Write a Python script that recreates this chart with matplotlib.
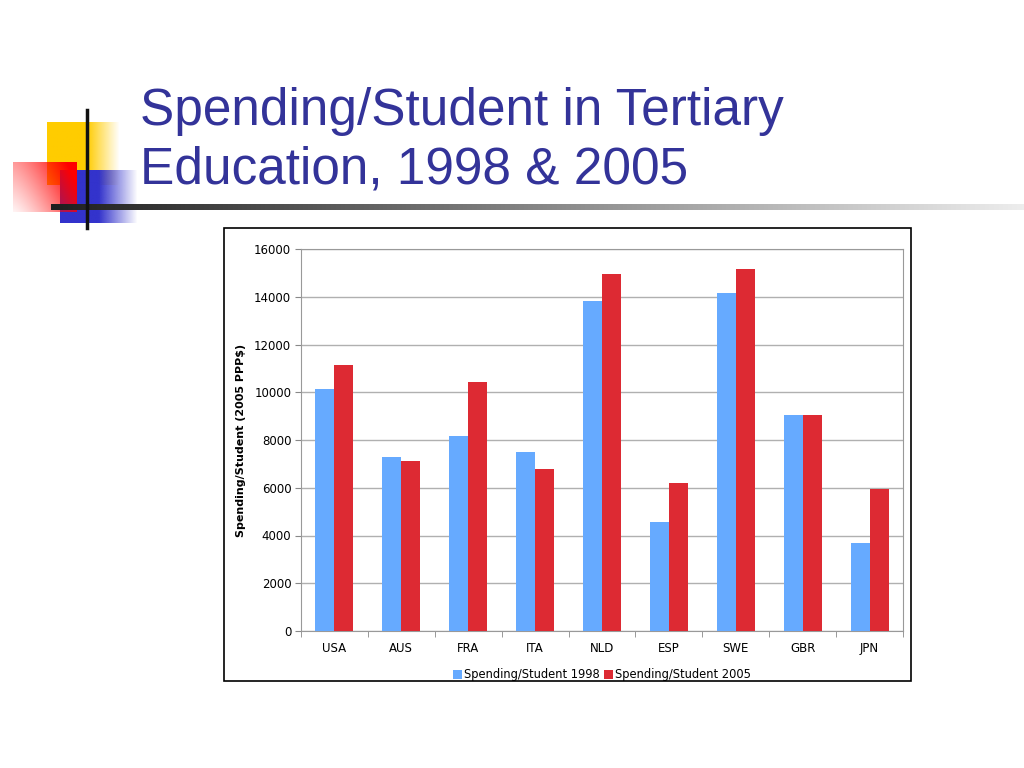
import numpy as np
import matplotlib
matplotlib.use('Agg')
import matplotlib.pyplot as plt
from matplotlib.patches import Rectangle

countries = ['USA', 'AUS', 'FRA', 'ITA', 'NLD', 'ESP', 'SWE', 'GBR', 'JPN']
spend_1998 = [10150, 7300, 8150, 7500, 13820, 4550, 14150, 9030, 3680]
spend_2005 = [11150, 7120, 10420, 6780, 14950, 6200, 15150, 9060, 5930]
yticks = [0, 2000, 4000, 6000, 8000, 10000, 12000, 14000, 16000]

BLUE = '#66aaff'
RED = '#dd2a33'
TITLE = '#333399'

fig = plt.figure(figsize=(10.24, 7.68), dpi=100)

# ── slide background / decorations (pixel coords) ──────────────────────────
bg = fig.add_axes([0, 0, 1, 1])
bg.set_xlim(0, 1024)
bg.set_ylim(768, 0)
bg.axis('off')


def grad_box(x0, x1, y0, y1, rgb, alpha):
    img = np.zeros((alpha.shape[0], alpha.shape[1], 4))
    img[..., :3] = rgb
    img[..., 3] = alpha
    bg.imshow(img, extent=[x0, x1, y1, y0], aspect='auto',
              interpolation='bilinear', zorder=2)


# yellow square, fades out to the right
xx = np.linspace(0, 1, 80)
a = np.clip((1 - xx) / 0.45, 0, 1)
grad_box(47, 120, 122, 185, (1.0, 0.8, 0.0), np.tile(a, (40, 1)))

# blue square, fades out to the right
a = np.clip((1 - xx) / 0.5, 0, 1)
grad_box(60, 138, 170, 223, (0.2, 0.2, 0.8), np.tile(a, (40, 1)))

# red square, strong at top-right, pale to the bottom-left
gx, gy = np.meshgrid(np.linspace(0, 1, 64), np.linspace(0, 1, 48))
a = np.clip(0.05 + 0.75 * gx ** 1.3 + 0.35 * (1 - gy), 0, 1)
grad_box(13, 77, 162, 212, (1.0, 0.0, 0.0), a)

# vertical black line
bg.plot([87, 87], [110, 228], color='#111111', lw=2.5, zorder=4)

# horizontal line, dark to light gray
hl = np.linspace(0.12, 0.93, 400)
img = np.tile(hl[None, :, None], (1, 1, 3))
bg.imshow(img, extent=[51, 1024, 210, 204], aspect='auto', zorder=3)

bg.text(140, 125, 'Spending/Student in Tertiary', fontsize=37,
        color=TITLE, family='Liberation Sans', va='baseline', zorder=5)
bg.text(140, 183, 'Education, 1998 & 2005', fontsize=37,
        color=TITLE, family='Liberation Sans', va='baseline', zorder=5)

# chart frame
bg.add_patch(Rectangle((224, 228), 687, 453, fill=False, ec='black',
                       lw=1.2, zorder=5))

# ── chart ──────────────────────────────────────────────────────────────────
ax = fig.add_axes([301 / 1024, 1 - 631 / 768, 602 / 1024, 382 / 768])
x = np.arange(len(countries))
w = 0.284
ax.bar(x - w / 2, spend_1998, w, color=BLUE, label='Spending/Student 1998', zorder=3)
ax.bar(x + w / 2, spend_2005, w, color=RED, label='Spending/Student 2005', zorder=3)

ax.set_xlim(-0.5, len(countries) - 0.5)
ax.set_ylim(0, 16000)
ax.set_yticks(yticks)
ax.set_yticklabels([str(v) for v in yticks], fontsize=8.5)
ax.set_xticks(x)
ax.set_xticklabels(countries, fontsize=8.5)
ax.tick_params(axis='x', length=0, pad=8)
ax.set_xticks(np.arange(-0.5, len(countries)), minor=True)
ax.tick_params(axis='x', which='minor', length=4, color='#888888')
ax.tick_params(axis='y', length=4, color='#888888', pad=3)
ax.grid(axis='y', color='#b0b0b0', lw=1, zorder=0)
for s in ax.spines.values():
    s.set_color('#999999')
ax.set_ylabel('Spending/Student (2005 PPP$)', fontsize=8,
              fontweight='bold', labelpad=6)

leg = ax.legend(loc='upper center', bbox_to_anchor=(0.5, -0.07), ncol=2,
                frameon=False, fontsize=8.3, handlelength=0.8,
                handleheight=0.8, handletextpad=0.2, columnspacing=0.3)

fig.savefig('out.png', dpi=100)
